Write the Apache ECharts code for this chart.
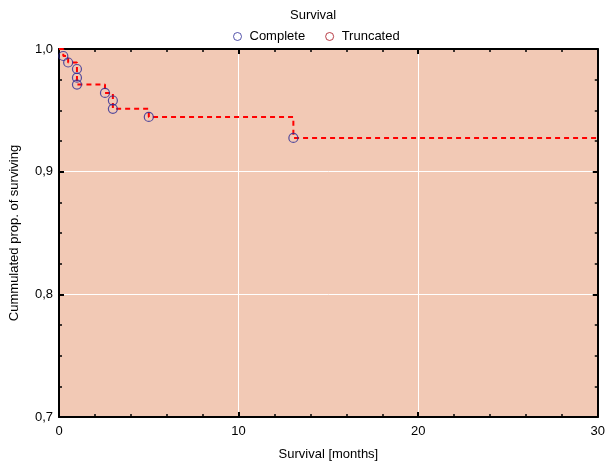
<!DOCTYPE html>
<html>
<head>
<meta charset="utf-8">
<script src="https://cdn.jsdelivr.net/npm/echarts@6/dist/echarts.min.js"></script>
<style>
  html, body { margin: 0; padding: 0; background: #fff; }
  #chart { width: 608px; height: 468px; }
</style>
</head>
<body>
<div id="chart"></div>
<script>
// event times (months) and cumulated proportion surviving
const completeTimes = [0.24, 0.51, 1.0, 1.0, 1.0, 2.56, 3.0, 3.0, 5.0, 13.05];
const completeSurv = [0.9943, 0.9890, 0.9837, 0.9766, 0.9710, 0.9642, 0.9580, 0.9512, 0.9446, 0.9275];
const xTicks = [0, 10, 20, 30];
const yTicks = [0.7, 0.8, 0.9, 1.0];
const lastTime = 30;

const chart = echarts.init(document.getElementById("chart"));

// step line: start at 1.0, pass through every event, run out to the end
const stepData = [[0, 1.0]];
completeTimes.forEach((t, i) => stepData.push([t, completeSurv[i]]));
stepData.push([lastTime, completeSurv[completeSurv.length - 1]]);

const pointData = completeTimes.map((t, i) => [t, completeSurv[i]]);

const font = "Liberation Sans, Arial, sans-serif";
const fmtY = (v) => v.toFixed(1).replace(".", ",");

const baseX = {
  type: "value",
  min: xTicks[0],
  max: xTicks[xTicks.length - 1],
  interval: 10,
  axisLine: { show: true, onZero: false, lineStyle: { color: "#000", width: 2 } },
  axisTick: { show: true, inside: true, length: 5, lineStyle: { color: "#000", width: 2 } },
  minorTick: { show: true, splitNumber: 5, length: 3, lineStyle: { color: "#000", width: 1.5 } },
};
const baseY = {
  type: "value",
  min: yTicks[0],
  max: yTicks[yTicks.length - 1],
  interval: 0.1,
  axisLine: { show: true, onZero: false, lineStyle: { color: "#000", width: 2 } },
  axisTick: { show: true, inside: true, length: 5, lineStyle: { color: "#000", width: 2 } },
  minorTick: { show: true, splitNumber: 4, length: 3, lineStyle: { color: "#000", width: 1.5 } },
};

const option = {
  animation: false,
  backgroundColor: "#fff",
  title: {
    text: "Survival",
    left: 285,
    top: 4,
    textStyle: { fontFamily: font, fontSize: 13, fontWeight: "normal", color: "#000" },
  },
  legend: {
    data: ["Complete", "Truncated"],
    top: 25,
    left: 228,
    itemWidth: 8,
    itemHeight: 8,
    itemGap: 20,
    itemStyle: { borderWidth: 1 },
    textStyle: { fontFamily: font, fontSize: 13, color: "#000", padding: [0, 0, 0, 3] },
  },
  grid: {
    left: 58,
    right: 6,
    top: 49,
    bottom: 51,
    show: true,
    backgroundColor: "#f2c9b5",
    borderWidth: 0,
  },
  xAxis: [
    Object.assign({}, baseX, {
      position: "bottom",
      name: "Survival [months]",
      nameLocation: "middle",
      nameGap: 31,
      nameTextStyle: { fontFamily: font, fontSize: 13, color: "#000" },
      axisLabel: { fontFamily: font, fontSize: 13, color: "#000", margin: 8 },
      splitLine: { show: true, lineStyle: { color: "#fff", width: 1 } },
    }),
    Object.assign({}, baseX, {
      position: "top",
      axisLabel: { show: false },
      splitLine: { show: false },
    }),
  ],
  yAxis: [
    Object.assign({}, baseY, {
      position: "left",
      name: "Cummulated prop. of surviving",
      nameLocation: "middle",
      nameGap: 38,
      nameTextStyle: { fontFamily: font, fontSize: 13, color: "#000" },
      axisLabel: { fontFamily: font, fontSize: 13, color: "#000", margin: 6, formatter: fmtY },
      splitLine: { show: true, lineStyle: { color: "#fff", width: 1 } },
    }),
    Object.assign({}, baseY, {
      position: "right",
      axisLabel: { show: false },
      splitLine: { show: false },
    }),
  ],
  series: [
    {
      name: "KM",
      type: "line",
      step: "end",
      data: stepData,
      showSymbol: false,
      lineStyle: { color: "#ff0000", width: 2, type: [5, 4] },
      z: 2,
    },
    {
      name: "Complete",
      type: "scatter",
      data: pointData,
      symbol: "circle",
      symbolSize: 9,
      itemStyle: { color: "rgba(0,0,0,0)", borderColor: "#2c2a96", borderWidth: 1.2 },
      z: 3,
    },
    {
      name: "Truncated",
      type: "scatter",
      data: [],
      symbol: "circle",
      symbolSize: 9,
      itemStyle: { color: "rgba(0,0,0,0)", borderColor: "#a8101c", borderWidth: 1.2 },
    },
  ],
};

chart.setOption(option);
</script>
</body>
</html>
